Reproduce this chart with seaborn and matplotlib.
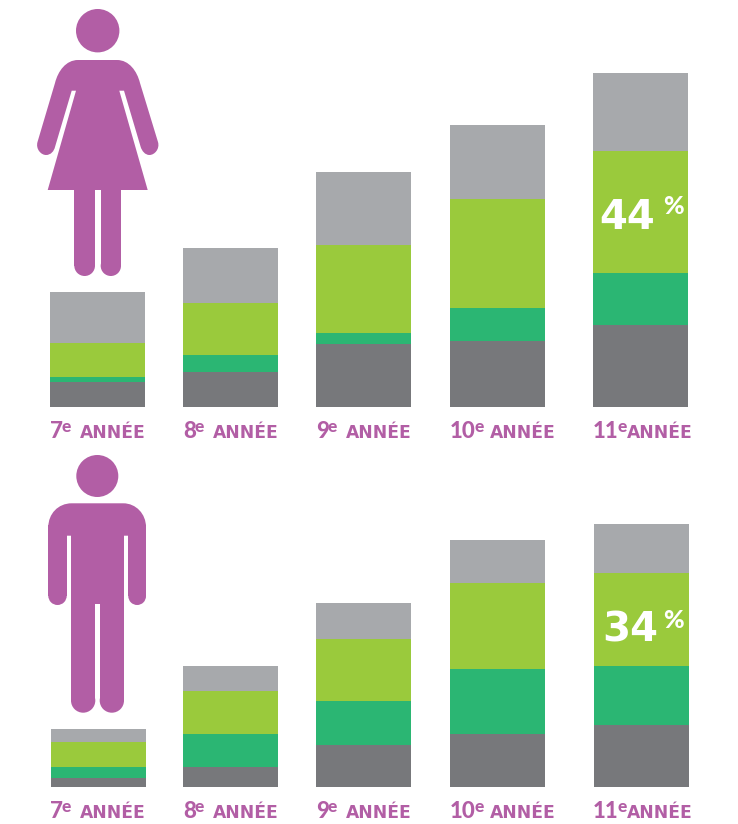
import pandas as pd
import matplotlib.pyplot as plt
from matplotlib.patches import Circle, PathPatch, Rectangle
from matplotlib.path import Path
import seaborn as sns

# Values (bar heights, bottom to top segment)
grades = ["7", "8", "9", "10", "11"]
segments = ["dark", "green", "light", "gray"]

girls_dark = [25, 35, 63, 66, 82]
girls_green = [5, 17, 11, 33, 52]
girls_light = [34, 52, 88, 109, 122]
girls_gray = [51, 55, 73, 74, 78]

boys_dark = [9, 20, 42, 53, 62]
boys_green = [11, 33, 44, 65, 59]
boys_light = [25, 43, 62, 86, 93]
boys_gray = [13, 25, 36, 43, 49]

# Layout, in pixels of the 738x824 picture
W, H = 738, 824
girls_centers = [97.5, 230.5, 363.5, 497.5, 640.5]
boys_centers = [98.5, 230.5, 363.5, 497.5, 641.5]
bar_w = 95
girls_base, boys_base = 407, 787

PURPLE = "#B25EA5"
colors = {"dark": "#77787B", "green": "#2BB673", "light": "#9ACA3C", "gray": "#A7A9AC"}

sns.set_theme(style="white")
plt.rcParams["font.family"] = ["DejaVu Sans"]

fig = plt.figure(figsize=(W / 100, H / 100), dpi=100)


def draw_stack(base, top_px, centers, values):
    ax = fig.add_axes([0, (H - base) / H, 1, (base - top_px) / H])
    df = pd.DataFrame(values, index=segments).T
    df["x"] = centers
    stacked = df[segments].cumsum(axis=1)
    # tallest first, shorter cumulative bars painted over it
    for seg in reversed(segments):
        sns.barplot(x=df["x"], y=stacked[seg], color=colors[seg], saturation=1,
                    native_scale=True, width=bar_w / 133, linewidth=0, orient="x", ax=ax)
    ax.set_xlim(0, W)
    ax.set_ylim(0, base - top_px)
    ax.axis("off")


draw_stack(girls_base, 40, girls_centers, [girls_dark, girls_green, girls_light, girls_gray])
draw_stack(boys_base, 490, boys_centers, [boys_dark, boys_green, boys_light, boys_gray])

# Overlay in pixel coordinates for pictograms and text
top = fig.add_axes([0, 0, 1, 1], facecolor="none")
top.set_xlim(0, W)
top.set_ylim(H, 0)
top.axis("off")


def rounded_bar(x0, x1, y0, y1):
    # bar with a round end at the bottom
    r = (x1 - x0) / 2
    top.add_patch(Rectangle((x0, y0), x1 - x0, y1 - y0 - r, fc=PURPLE, lw=0))
    top.add_patch(Circle((x0 + r, y1 - r), r, fc=PURPLE, lw=0))


# woman
top.add_patch(Circle((97.7, 30.7), 21.7, fc=PURPLE, lw=0))
woman = [
    (Path.MOVETO, (78, 60)),
    (Path.CURVE4, (66, 60)), (Path.CURVE4, (58, 71)), (Path.CURVE4, (55, 83)),
    (Path.LINETO, (37.5, 142)),
    (Path.CURVE4, (35.5, 149)), (Path.CURVE4, (41, 155)), (Path.CURVE4, (46, 155)),
    (Path.CURVE4, (51, 155)), (Path.CURVE4, (54, 151)), (Path.CURVE4, (55, 147)),
    (Path.LINETO, (71.7, 90.7)),
    (Path.LINETO, (76, 90.7)),
    (Path.LINETO, (47.7, 190)),
    (Path.LINETO, (147.7, 190)),
    (Path.LINETO, (119.3, 90.7)),
    (Path.LINETO, (124, 90.7)),
    (Path.LINETO, (140.7, 147)),
    (Path.CURVE4, (142, 151)), (Path.CURVE4, (145, 155)), (Path.CURVE4, (149.5, 155)),
    (Path.CURVE4, (154.5, 155)), (Path.CURVE4, (160, 149)), (Path.CURVE4, (158, 142)),
    (Path.LINETO, (140, 83)),
    (Path.CURVE4, (137, 71)), (Path.CURVE4, (129, 60)), (Path.CURVE4, (117, 60)),
    (Path.CLOSEPOLY, (78, 60)),
]
codes, verts = zip(*woman)
top.add_patch(PathPatch(Path(verts, codes), fc=PURPLE, lw=0))
rounded_bar(74.3, 95, 188, 276)
rounded_bar(100.7, 121, 188, 276)

# man
top.add_patch(Circle((97.3, 476), 21, fc=PURPLE, lw=0))
man = [
    (Path.MOVETO, (71.7, 503.3)),
    (Path.CURVE4, (58, 503.3)), (Path.CURVE4, (48.3, 514)), (Path.CURVE4, (48.3, 527)),
    (Path.LINETO, (66.7, 527)),
    (Path.LINETO, (66.7, 535.7)),
    (Path.LINETO, (71, 535.7)),
    (Path.LINETO, (71, 604)),
    (Path.LINETO, (124, 604)),
    (Path.LINETO, (124, 535.7)),
    (Path.LINETO, (128.3, 535.7)),
    (Path.LINETO, (128.3, 527)),
    (Path.LINETO, (146, 527)),
    (Path.CURVE4, (146, 514)), (Path.CURVE4, (136, 503.3)), (Path.CURVE4, (123.3, 503.3)),
    (Path.CLOSEPOLY, (71.7, 503.3)),
]
codes, verts = zip(*man)
top.add_patch(PathPatch(Path(verts, codes), fc=PURPLE, lw=0))
rounded_bar(48.3, 66.7, 525, 605)
rounded_bar(128.3, 146, 525, 605)
rounded_bar(71, 95.3, 603, 712.7)
rounded_bar(99.7, 124, 603, 712.7)

# Grade labels
label_left = [50, 183, 316, 450, 593]
label_right = [146, 279, 412, 556, 693]
renderer = fig.canvas.get_renderer()
for base_y in [438, 818]:
    for g, x0, x1 in zip(grades, label_left, label_right):
        num = top.text(x0, base_y, g, color=PURPLE, fontsize=16, family="Lato", fontweight="black",
                       va="baseline", ha="left")
        num_right = top.transData.inverted().transform(num.get_window_extent(renderer))[1, 0]
        top.text(num_right - 1, base_y - 6.5, "e", color=PURPLE, fontsize=12.5, family="Lato", fontweight="black",
                 va="baseline", ha="left")
        top.text(x1, base_y, "ANNÉE", color=PURPLE, fontsize=12.3, fontweight="bold", va="baseline", ha="right")

# Callouts
top.text(599, 229, "44", color="white", fontsize=29, fontweight="bold", va="baseline", ha="left")
top.text(663, 214, "%", color="white", fontsize=18, family="Lato", fontweight="black", va="baseline", ha="left")
top.text(602, 642, "34", color="white", fontsize=29, fontweight="bold", va="baseline", ha="left")
top.text(663, 628, "%", color="white", fontsize=18, family="Lato", fontweight="black", va="baseline", ha="left")

fig.savefig("out.png", dpi=100)
